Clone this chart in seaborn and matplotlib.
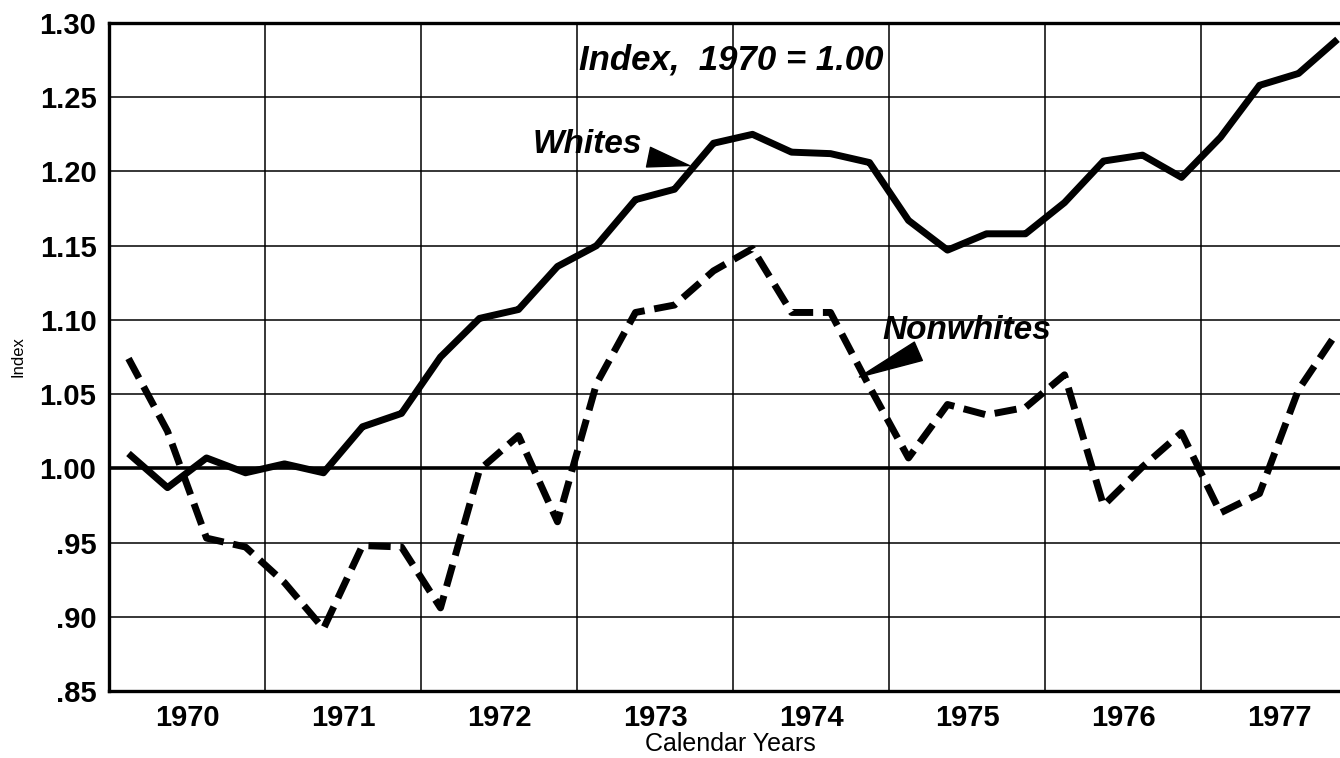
import pandas as pd
import numpy as np
import matplotlib
matplotlib.use("Agg")
import matplotlib.pyplot as plt
import seaborn as sns

# quarterly index values, 1970 Q1 .. 1977 Q4
years = [1970, 1971, 1972, 1973, 1974, 1975, 1976, 1977]
whites = [1.010, 0.987, 1.007, 0.997, 1.003, 0.997, 1.028, 1.037,
          1.075, 1.101, 1.107, 1.136, 1.150, 1.181, 1.188, 1.219,
          1.225, 1.213, 1.212, 1.206, 1.167, 1.147, 1.158, 1.158,
          1.179, 1.207, 1.211, 1.196, 1.223, 1.258, 1.266, 1.289]
nonwhites = [1.074, 1.025, 0.953, 0.947, 0.923, 0.892, 0.948, 0.947,
             0.906, 0.999, 1.022, 0.964, 1.057, 1.105, 1.110, 1.133,
             1.148, 1.105, 1.105, 1.055, 1.007, 1.043, 1.036, 1.041,
             1.063, 0.975, 1.001, 1.024, 0.970, 0.983, 1.053, 1.092]
y_ticks = [0.85, 0.90, 0.95, 1.00, 1.05, 1.10, 1.15, 1.20, 1.25, 1.30]
y_labels = [".85", ".90", ".95", "1.00", "1.05", "1.10", "1.15", "1.20", "1.25", "1.30"]

# position of each quarter in "years since 1970", mid-quarter
t = [(i + 0.5) / 4 for i in range(len(whites))]
df = pd.DataFrame({
    "t": t * 2,
    "Index": whites + nonwhites,
    "group": ["Whites"] * len(whites) + ["Nonwhites"] * len(nonwhites),
})

sns.set_style("white")
plt.rcParams["font.family"] = ["Liberation Sans", "DejaVu Sans"]
plt.rcParams["text.color"] = "black"
plt.rcParams["axes.labelcolor"] = "black"
plt.rcParams["xtick.color"] = "black"
plt.rcParams["ytick.color"] = "black"

fig = plt.figure(figsize=(13.4, 7.58), dpi=100)
ax = fig.add_axes([109 / 1340, 67 / 758, 1231 / 1340, 668 / 758])

sns.lineplot(data=df, x="t", y="Index", hue="group", style="group",
             palette={"Whites": "black", "Nonwhites": "black"},
             dashes={"Whites": (1, 0), "Nonwhites": (3.2, 1.4)},
             linewidth=5, legend=False, ax=ax, zorder=3)

ax.set_xlim(0, 1231 / 156)
ax.set_ylim(0.85, 1.30)

ax.set_yticks(y_ticks)
ax.set_yticklabels(y_labels, fontsize=21, fontweight="bold")
ax.set_xticks([i + 0.5 for i in range(len(years))])
ax.set_xticklabels([str(y) for y in years], fontsize=21, fontweight="bold")
ax.set_xticks(range(1, len(years)), minor=True)
ax.tick_params(axis="both", which="both", length=0)
ax.tick_params(axis="y", pad=9)
ax.tick_params(axis="x", pad=9)

ax.grid(False)
ax.grid(which="major", axis="y", color="black", linewidth=1.1)
ax.grid(which="minor", axis="x", color="black", linewidth=1.1)
ax.axhline(1.0, color="black", linewidth=2.6, zorder=2)

for side in ["left", "bottom", "top"]:
    ax.spines[side].set_linewidth(2.4)
    ax.spines[side].set_color("black")
ax.spines["right"].set_visible(False)

ax.set_xlabel("Calendar Years", fontsize=18)
ax.set_ylabel("Index", fontsize=12)
ax.xaxis.set_label_coords(0.505, -0.062)
ax.yaxis.set_label_coords(-0.068, 0.5)

lab_font = dict(family=["Liberation Sans Narrow", "Liberation Sans", "DejaVu Sans"],
                fontweight="heavy", fontstyle="italic", color="black")
ax.text(3.99, 1.275, "Index,  1970 = 1.00", fontsize=25, ha="center", va="center", **lab_font)
ax.annotate("Whites", xy=(3.72, 1.204), xytext=(3.42, 1.218), fontsize=24,
            ha="right", va="center", **lab_font,
            arrowprops=dict(arrowstyle="wedge,tail_width=0.6", fc="black", ec="black",
                            shrinkA=2, shrinkB=0))
ax.annotate("Nonwhites", xy=(4.81, 1.0615), xytext=(4.955, 1.093), fontsize=24,
            ha="left", va="center", **lab_font,
            arrowprops=dict(arrowstyle="wedge,tail_width=0.6", fc="black", ec="black",
                            shrinkA=4, shrinkB=0))

fig.savefig("out.png", dpi=100)
